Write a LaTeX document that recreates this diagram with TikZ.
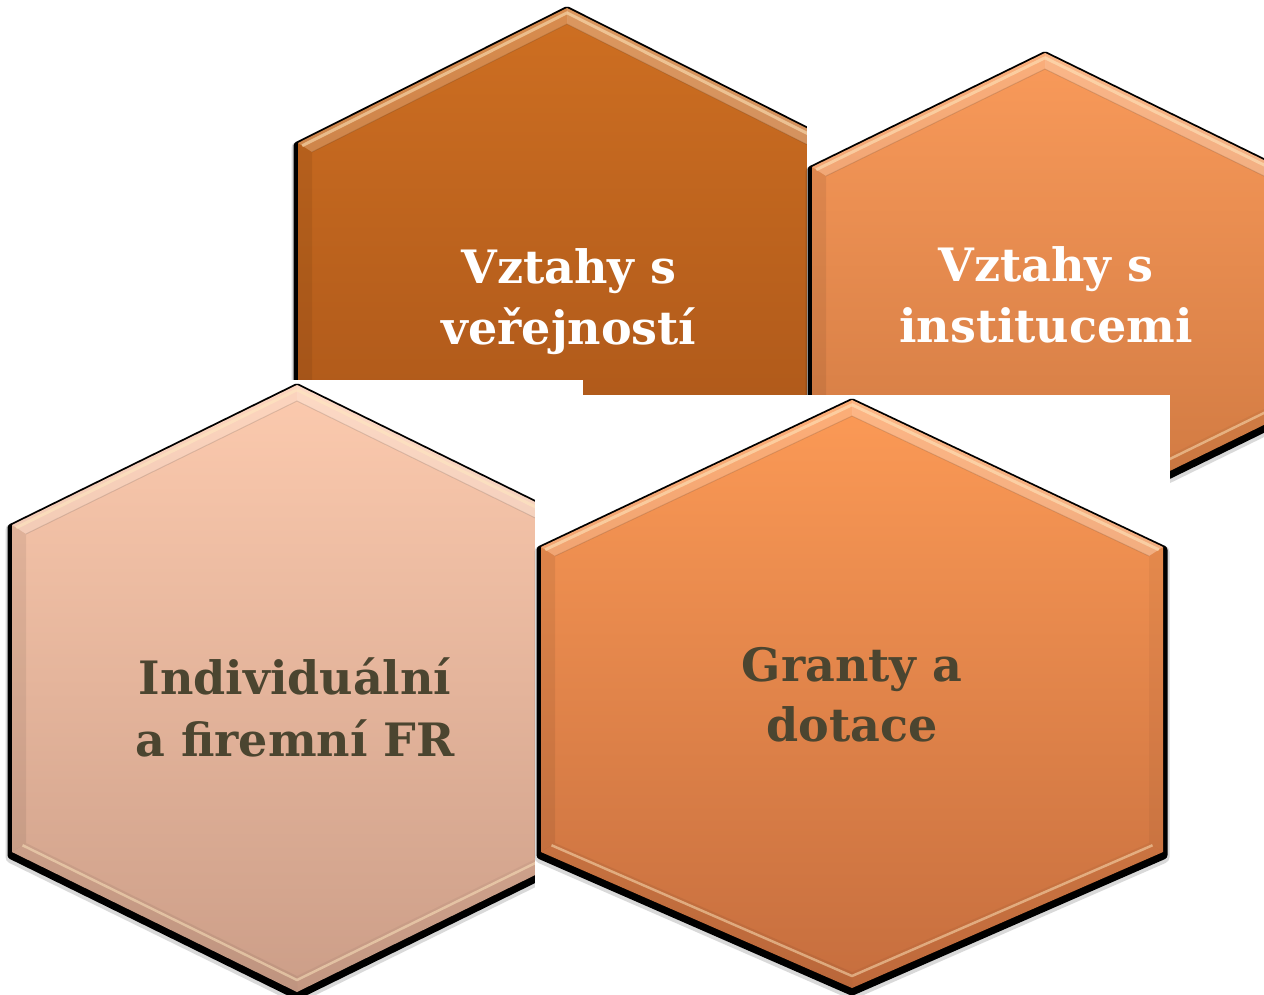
\documentclass[tikz,border=0pt]{standalone}
\usepackage{fontspec}
\setmainfont{DejaVu Serif}
\usetikzlibrary{calc}
\definecolor{atop}{HTML}{CE6F22}\definecolor{abot}{HTML}{A65318}
\definecolor{btop}{HTML}{F99A5A}\definecolor{bbot}{HTML}{CD7740}
\definecolor{ctop}{HTML}{FCCAAE}\definecolor{cbot}{HTML}{CC9E88}
\definecolor{dtop}{HTML}{FC9A56}\definecolor{dbot}{HTML}{C66E3E}
\definecolor{darktext}{HTML}{4B4530}
\definecolor{glint}{HTML}{FFE9C0}
\newcommand{\hexpic}[8]{% cx, hw, yapex, yupper, ylower, ybottom, top colour, bottom colour
  \coordinate (o1) at (#1,#3);
  \coordinate (o2) at (#1-#2,#4);
  \coordinate (o3) at (#1-#2,#5);
  \coordinate (o4) at (#1,#6);
  \coordinate (o5) at (#1+#2,#5);
  \coordinate (o6) at (#1+#2,#4);
  \coordinate (i1) at (#1,#3+16);
  \coordinate (i2) at (#1-#2+14,#4+9);
  \coordinate (i3) at (#1-#2+14,#5-9);
  \coordinate (i4) at (#1,#6-16);
  \coordinate (i5) at (#1+#2-14,#5-9);
  \coordinate (i6) at (#1+#2-14,#4+9);
  % shadow
  \filldraw[black, opacity=.15, line width=13pt, line join=round]
    ([yshift=-5pt]o1) -- ([yshift=-5pt]o2) -- ([yshift=-5pt]o3) -- ([yshift=-5pt]o4) -- ([yshift=-5pt]o5) -- ([yshift=-5pt]o6) -- cycle;
  \filldraw[black, line width=9pt, line join=round]
    ([yshift=-3pt]o1) -- ([yshift=-3pt]o2) -- ([yshift=-3pt]o3) -- ([yshift=-3pt]o4) -- ([yshift=-3pt]o5) -- ([yshift=-3pt]o6) -- cycle;
  % body
  \shade[top color=#7, bottom color=#8] (o1) -- (o2) -- (o3) -- (o4) -- (o5) -- (o6) -- cycle;
  % bevel
  \fill[white, opacity=.20] (o2) -- (o1) -- (i1) -- (i2) -- cycle;
  \fill[white, opacity=.28] (o1) -- (o6) -- (i6) -- (i1) -- cycle;
  \fill[black, opacity=.07] (o2) -- (o3) -- (i3) -- (i2) -- cycle;
  \fill[black, opacity=.04] (o6) -- (o5) -- (i5) -- (i6) -- cycle;
  \fill[black, opacity=.06] (o3) -- (o4) -- (i4) -- (i3) -- cycle;
  \fill[black, opacity=.04] (o4) -- (o5) -- (i5) -- (i4) -- cycle;
  \draw[glint, opacity=.55, line width=3pt, line join=round]
    ($(o2)!.3!(i2)$) -- ($(o1)!.3!(i1)$) -- ($(o6)!.3!(i6)$);
  \draw[glint, opacity=.5, line width=2.5pt, line join=round]
    ($(o3)!.75!(i3)$) -- ($(o4)!.75!(i4)$) -- ($(o5)!.75!(i5)$);
  \draw[black, opacity=.12, line width=1pt] (i2) -- (i1) -- (i6);
}
\tikzset{
  hextext/.style={font=\fontsize{46pt}{61pt}\selectfont\bfseries, anchor=base, inner sep=0pt},
  whitebox/.style={fill=white}
}
\begin{document}
\begin{tikzpicture}[x=1pt,y=-1pt]
  \useasboundingbox (0,0) rectangle (1264,994);
  \clip (0,0) rectangle (1264,994);
  \fill[white] (0,0) rectangle (1264,994);
  % A
  \hexpic{567}{269}{8}{143}{404}{539}{atop}{abot}
  \node[hextext, text=white] (a1) at (569,283) {Vztahy s};
  \node[hextext, text=white] (a2) at (569,344) {veřejností};
  % B
  \fill[whitebox] (807,46) rectangle (1264,548);
  \hexpic{1045}{233}{53}{167}{418}{532}{btop}{bbot}
  \node[hextext, text=white] (b1) at (1046,281) {Vztahy s};
  \node[hextext, text=white] (b2) at (1046,342) {institucemi};
  % C
  \fill[whitebox] (5,380) rectangle (583,994);
  \hexpic{297}{285}{385}{525}{852}{992}{ctop}{cbot}
  \node[hextext, text=darktext] (c1) at (295,694) {Individuální};
  \node[hextext, text=darktext] (c2) at (295,756) {a firemní FR};
  % D
  \fill[whitebox] (535,395) rectangle (1170,994);
  \hexpic{852}{311}{400}{547}{852}{988}{dtop}{dbot}
  \node[hextext, text=darktext] (d1) at (852,681) {Granty a};
  \node[hextext, text=darktext] (d2) at (852,741) {dotace};
\end{tikzpicture}
\end{document}
